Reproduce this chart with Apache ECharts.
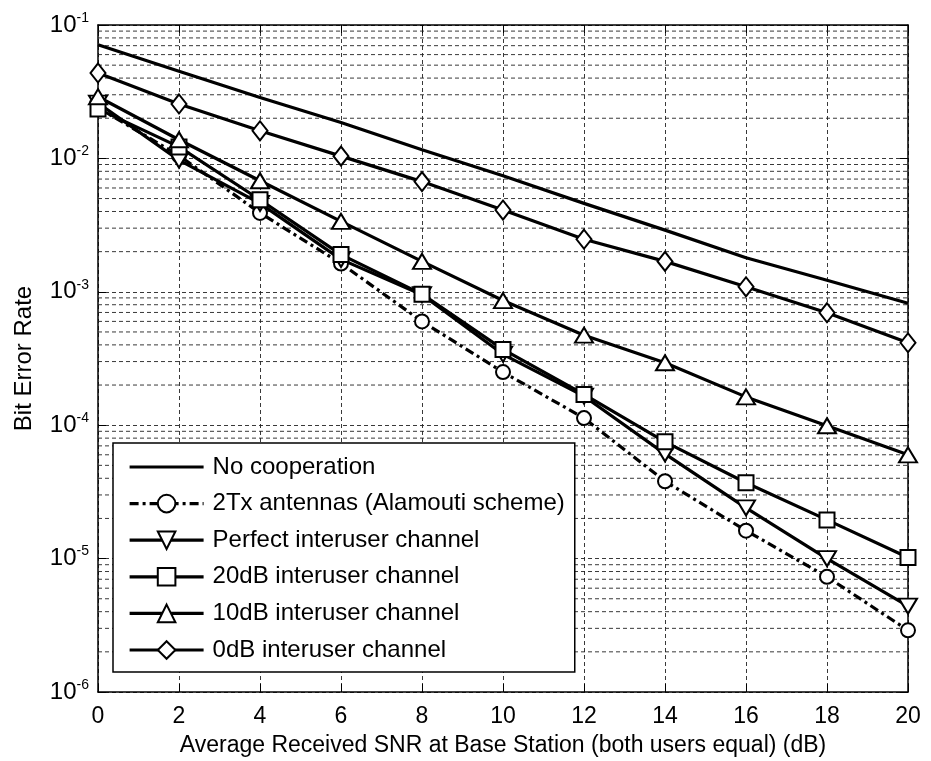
<!DOCTYPE html>
<html>
<head>
<meta charset="utf-8">
<script src="https://cdn.jsdelivr.net/npm/echarts@6/dist/echarts.min.js"></script>
<style>
html,body{margin:0;padding:0;background:#fff;}
#chart{width:931px;height:761px;}
</style>
</head>
<body>
<div id="chart"></div>
<script>
// ---- data ----
var snrDb = [0, 2, 4, 6, 8, 10, 12, 14, 16, 18, 20];
var noCooperation = [0.071, 0.045, 0.0286, 0.0186, 0.0116, 0.0074, 0.0046, 0.0029, 0.0018, 0.00122, 0.00082];
var alamouti2Tx = [0.024, 0.0105, 0.0039, 0.00163, 0.0006, 0.00025, 0.000113, 0.000038, 0.0000162, 0.0000073, 0.0000029];
var perfectInteruser = [0.026, 0.0097, 0.0046, 0.00175, 0.00095, 0.00034, 0.000165, 0.000061, 0.000024, 0.000010, 0.0000044];
var interuser20dB = [0.0235, 0.0122, 0.0049, 0.0019, 0.00096, 0.00037, 0.00017, 0.000075, 0.000037, 0.0000195, 0.0000102];
var interuser10dB = [0.029, 0.0138, 0.0068, 0.00337, 0.00169, 0.00086, 0.000473, 0.000294, 0.000163, 0.000099, 0.00006];
var interuser0dB = [0.0437, 0.0256, 0.0161, 0.0104, 0.0067, 0.0041, 0.00248, 0.00169, 0.00109, 0.000697, 0.000415];
var seriesNames = ['No cooperation', '2Tx antennas (Alamouti scheme)', 'Perfect interuser channel',
                   '20dB interuser channel', '10dB interuser channel', '0dB interuser channel'];
var minorGridValues = [];
[-6, -5, -4, -3, -2].forEach(function (e) {
  for (var m = 2; m <= 9; m++) minorGridValues.push(m * Math.pow(10, e));
});
var xTitle = 'Average Received SNR at Base Station (both users equal) (dB)';
var yTitle = 'Bit Error Rate';

function pairs(arr) { return snrDb.map(function (x, i) { return [x, arr[i]]; }); }

var FONT = 'Liberation Sans, Arial, Helvetica, sans-serif';
var LW = 3.2;
var GRID_STYLE = { color: '#222', width: 0.9, type: [4, 3] };

function mkSeries(name, data, symbol, size, lineType, rotate) {
  var s = {
    name: name,
    type: 'line',
    data: pairs(data),
    symbol: symbol,
    symbolSize: size,
    showSymbol: symbol !== 'none',
    symbolKeepAspect: true,
    lineStyle: { color: '#000', width: LW, type: lineType || 'solid' },
    itemStyle: { color: '#000', borderColor: '#000', borderWidth: 2.6 },
    emphasis: { disabled: true },
    animation: false,
    z: 3
  };
  if (rotate) s.symbolRotate = rotate;
  return s;
}

var series = [
  mkSeries(seriesNames[0], noCooperation, 'none', 0),
  mkSeries(seriesNames[1], alamouti2Tx, 'emptyCircle', 14, [9, 4, 3, 4]),
  mkSeries(seriesNames[2], perfectInteruser, 'emptyTriangle', [18, 15], 'solid', 180),
  mkSeries(seriesNames[3], interuser20dB, 'emptyRect', 15),
  mkSeries(seriesNames[4], interuser10dB, 'emptyTriangle', [18, 15]),
  mkSeries(seriesNames[5], interuser0dB, 'emptyDiamond', [15, 19])
];
// minor grid lines of the log axis (2..9 x 10^k)
series.unshift({
  type: 'custom',
  silent: true,
  z: 1,
  animation: false,
  data: minorGridValues.map(function (v) { return [0, v]; }),
  renderItem: function (params, api) {
    var v = api.value(1);
    var p0 = api.coord([0, v]);
    var p1 = api.coord([20, v]);
    return {
      type: 'line',
      shape: { x1: p0[0], y1: p0[1], x2: p1[0], y2: p1[1] },
      style: { stroke: GRID_STYLE.color, lineWidth: GRID_STYLE.width, lineDash: GRID_STYLE.type }
    };
  }
});

var legendData = seriesNames.map(function (n, i) {
  return i === 0 ? { name: n, itemStyle: { opacity: 0 } } : { name: n };
});

var chart = echarts.init(document.getElementById('chart'), null, { renderer: 'canvas' });
chart.setOption({
  backgroundColor: '#fff',
  animation: false,
  textStyle: { fontFamily: FONT },
  grid: { left: 98, right: 23, top: 25, bottom: 69, show: false, containLabel: false, outerBoundsMode: 'none' },
  legend: {
    data: legendData,
    orient: 'vertical',
    left: 113,
    top: 443,
    itemWidth: 74,
    itemHeight: 22,
    itemGap: 12.6,
    padding: [12, 10, 10, 15],
    backgroundColor: '#fff',
    borderColor: '#000',
    borderWidth: 1.5,
    borderRadius: 0,
    selectedMode: false,
    lineStyle: { width: LW },
    textStyle: { fontSize: 24, lineHeight: 24, color: '#000', fontFamily: FONT, padding: [0, 0, 0, 4] }
  },
  xAxis: [{
    type: 'value', min: 0, max: 20, interval: 2,
    name: xTitle, nameLocation: 'middle', nameGap: 42,
    nameTextStyle: { fontSize: 23, color: '#000', fontFamily: FONT },
    axisLine: { show: true, onZero: false, lineStyle: { color: '#000', width: 1.5 } },
    axisTick: { show: true, inside: true, length: 8, lineStyle: { color: '#000' } },
    axisLabel: { fontSize: 23, color: '#000', margin: 13, fontFamily: FONT },
    splitLine: { show: true, lineStyle: GRID_STYLE }
  }, {
    type: 'value', min: 0, max: 20, interval: 2, position: 'top',
    axisLine: { show: true, onZero: false, lineStyle: { color: '#000', width: 1.5 } },
    axisTick: { show: true, inside: true, length: 8, lineStyle: { color: '#000' } },
    axisLabel: { show: false }, splitLine: { show: false }
  }],
  yAxis: [{
    type: 'log', logBase: 10, min: 1e-6, max: 1e-1,
    name: yTitle, nameLocation: 'middle', nameGap: 62, nameRotate: 90,
    nameTextStyle: { fontSize: 24, color: '#000', fontFamily: FONT },
    axisLine: { show: true, onZero: false, lineStyle: { color: '#000', width: 1.5 } },
    axisTick: { show: true, inside: true, length: 8, lineStyle: { color: '#000' } },
    axisLabel: {
      margin: 9,
      formatter: function (v) {
        var e = Math.round(Math.log10(v));
        return '{b|10}{s|' + e + '}';
      },
      rich: {
        b: { fontSize: 24, lineHeight: 30, color: '#000', fontFamily: FONT },
        s: { fontSize: 14, padding: [0, 0, 14, 0], color: '#000', fontFamily: FONT }
      }
    },
    splitLine: { show: true, lineStyle: GRID_STYLE }
  }, {
    type: 'log', logBase: 10, min: 1e-6, max: 1e-1, position: 'right',
    axisLine: { show: true, onZero: false, lineStyle: { color: '#000', width: 1.5 } },
    axisTick: { show: true, inside: true, length: 8, lineStyle: { color: '#000' } },
    axisLabel: { show: false }, splitLine: { show: false }
  }],
  series: series
});
</script>
</body>
</html>
